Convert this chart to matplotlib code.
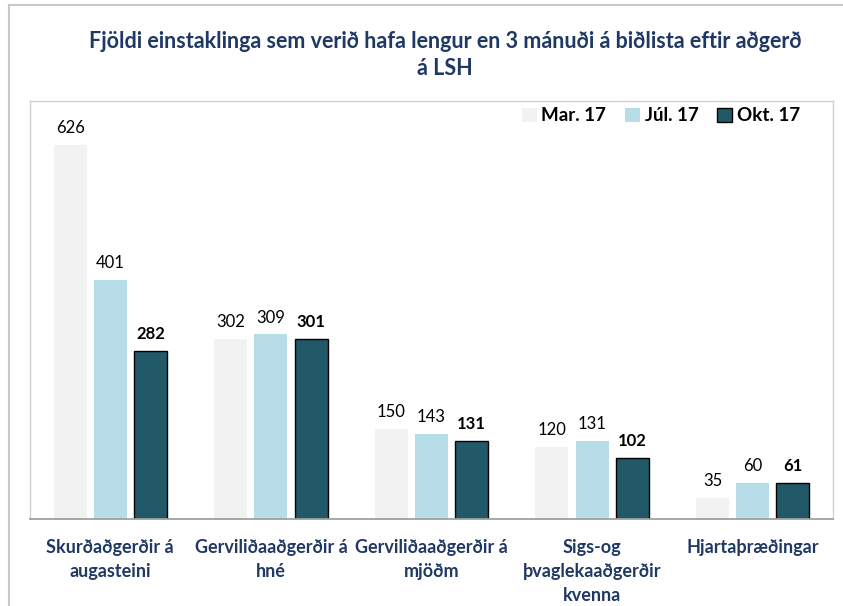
import numpy as np
import matplotlib.pyplot as plt
from matplotlib.lines import Line2D
from matplotlib.patches import Patch

categories = ['Skurðaðgerðir á\naugasteini', 'Gerviliðaaðgerðir á\nhné',
              'Gerviliðaaðgerðir á\nmjöðm', 'Sigs-og\nþvaglekaaðgerðir\nkvenna',
              'Hjartaþræðingar']
series = ['Mar. 17', 'Júl. 17', 'Okt. 17']
mar17 = [626, 302, 150, 120, 35]
jul17 = [401, 309, 143, 131, 60]
okt17 = [282, 301, 131, 102, 61]

colors = ['#F2F2F2', '#B7DEE8', '#215968']
navy = '#1F3864'

plt.rcParams['font.family'] = ['Lato', 'DejaVu Sans']

fig = plt.figure(figsize=(8.43, 6.06), dpi=100)
ax = fig.add_axes([30/843, 1-519/606, 803/843, 418/606])

x = np.arange(len(categories))
w = 0.205
off = 0.25
for i, (vals, c) in enumerate(zip([mar17, jul17, okt17], colors)):
    pos = x + (i - 1) * off
    if i == 2:
        bars = ax.bar(pos, vals, w, color=c, edgecolor='black', linewidth=1)
    else:
        bars = ax.bar(pos, vals, w, color=c, linewidth=0)
    for b, v in zip(bars, vals):
        ax.text(b.get_x() + b.get_width()/2, v + 15, str(v), ha='center', va='bottom',
                fontsize=12, fontweight='bold' if i == 2 else 'normal', color='black')

ax.set_xlim(-0.5, len(categories) - 0.5)
ax.set_ylim(0, 700)
ax.set_yticks([])
ax.set_xticks([])
for s in ['left', 'top', 'right']:
    ax.spines[s].set_color('#D0D0D0')
    ax.spines[s].set_linewidth(1)
ax.spines['bottom'].set_color('#A0A0A0')
ax.spines['bottom'].set_linewidth(1.3)

for xi, lab in zip(x, categories):
    ax.text(xi, -34, lab, ha='center', va='top', fontsize=13, fontweight='bold',
            color=navy, linespacing=1.5, transform=ax.transData)

handles = [Patch(facecolor=colors[0], edgecolor='none'),
           Patch(facecolor=colors[1], edgecolor='none'),
           Patch(facecolor=colors[2], edgecolor='black')]
ax.legend(handles, series, loc='upper right', bbox_to_anchor=(0.98, 1.025), ncol=3,
          frameon=False, prop={'weight': 'bold', 'size': 13.5},
          handlelength=0.8, handleheight=0.8, handletextpad=0.25, columnspacing=1.0)

fig.text(445/843, 1-55/606, 'Fjöldi einstaklinga sem verið hafa lengur en 3 mánuði á biðlista eftir aðgerð\ná LSH',
         ha='center', va='center', fontsize=15.5, fontweight='bold', color=navy, linespacing=1.4)

fig.add_artist(Line2D([9/843, 9/843], [0, 1-5/606], color='#C8C8C8', linewidth=1.5))
fig.add_artist(Line2D([9/843, 1], [1-5/606, 1-5/606], color='#C8C8C8', linewidth=1.5))

fig.savefig('out.png', dpi=100)
